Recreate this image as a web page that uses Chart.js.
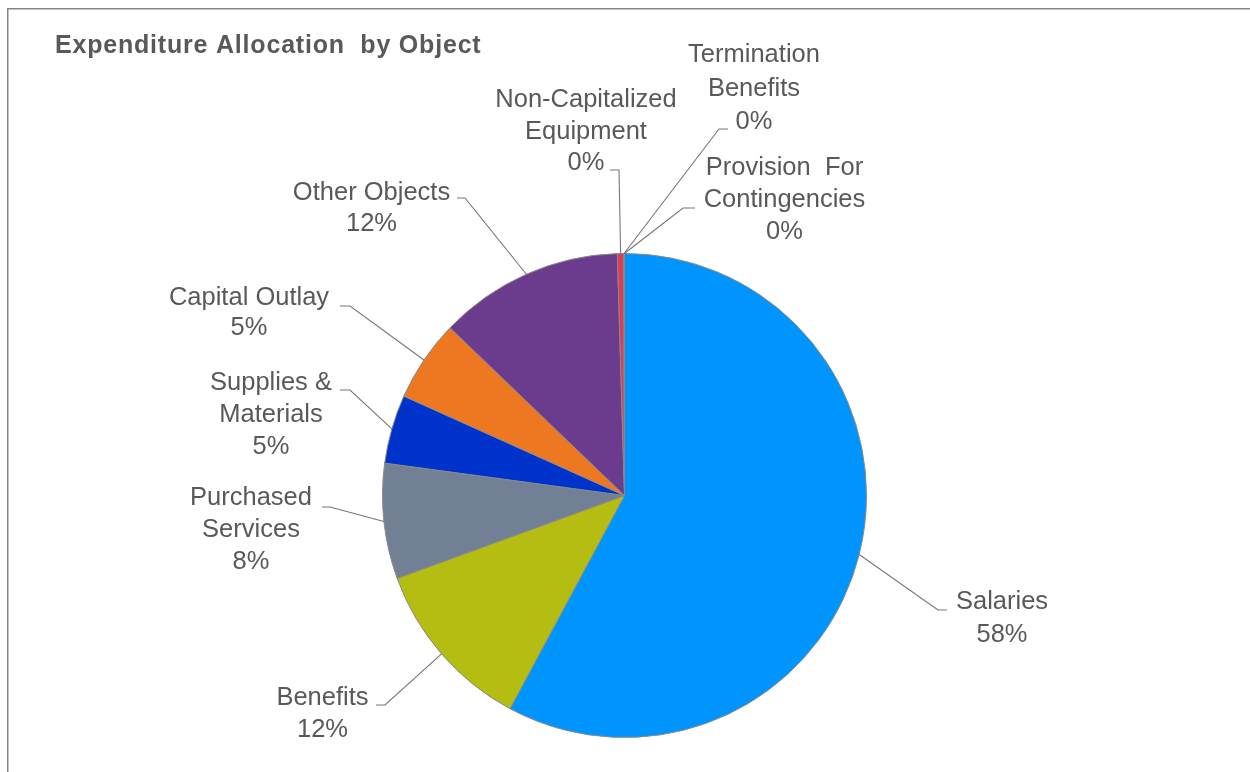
<!DOCTYPE html>
<html>
<head>
<meta charset="utf-8">
<title>Expenditure Allocation by Object</title>
<script src="https://cdn.jsdelivr.net/npm/chart.js@4.4.1/dist/chart.umd.min.js"></script>
<style>
  html, body { margin: 0; padding: 0; background: #fff; overflow: hidden; }
  #wrap { position: relative; width: 1250px; height: 772px; }
</style>
</head>
<body>
<div id="wrap"><canvas id="objectPie" width="1250" height="772"></canvas></div>
<script>
  // expenditure objects, clockwise from 12 o'clock (multi-line names are pre-split)
  const categories = [
    ['Salaries'],
    ['Benefits'],
    ['Purchased', 'Services'],
    ['Supplies &', 'Materials'],
    ['Capital Outlay'],
    ['Other Objects'],
    ['Non-Capitalized', 'Equipment'],
    ['Termination', 'Benefits'],
    ['Provision  For', 'Contingencies']
  ];
  // share of total spend, percent
  const shares = [57.86, 11.6, 7.7, 4.6, 5.45, 12.35, 0.43, 0.02, 0.02];
  const sliceColors = [
    '#0094ff', '#b5bd12', '#728096', '#0033cc', '#ee7722',
    '#6b3b8d', '#dc3c55', '#4f81bd', '#9bbb59'
  ];

  const TEXT = '#595959';
  const FONT = '"Liberation Sans", Arial, sans-serif';

  // label placement as offsets from the pie centre:
  // tx/ty = text centre and first line, ex/ey = leader elbow, stub = short run towards the text
  const labelLayout = [
    { tx: 377.5, ty: 106.5, ex: 313.5, ey: 114.5, stub: 9, lh: 33 },
    { tx: -302, ty: 202.5, ex: -239.5, ey: 209.5, stub: -9 },
    { tx: -373.5, ty: 2.5, ex: -294.5, ey: 11.5, stub: -8 },
    { tx: -353.5, ty: -112.5, ex: -274.5, ey: -105.5, stub: -10 },
    { tx: -375.5, ty: -197.5, ex: -274.5, ey: -189.5, stub: -10, lh: 30 },
    { tx: -253, ty: -302.5, ex: -159.5, ey: -297.5, stub: -8, lh: 31 },
    { tx: -38.5, ty: -395.5, ex: -5.5, ey: -325.5, stub: -9, lh: 31.5 },
    { tx: 129.5, ty: -440.5, ex: 94.5, ey: -366.5, stub: 9, lh: 33.5 },
    { tx: 160, ty: -327.5, ex: 58.5, ey: -287.5, stub: 12 }
  ];

  const frameAndTitle = {
    id: 'frameAndTitle',
    beforeDraw(chart) {
      const ctx = chart.ctx;
      ctx.save();
      ctx.fillStyle = '#fff';
      ctx.fillRect(0, 0, chart.width, chart.height);
      ctx.strokeStyle = '#868686';
      ctx.lineWidth = 1.5;
      ctx.beginPath();
      ctx.moveTo(7.75, chart.height);
      ctx.lineTo(7.75, 8.75);
      ctx.lineTo(chart.width, 8.75);
      ctx.stroke();
      ctx.restore();
    },
    afterDraw(chart) {
      const ctx = chart.ctx;
      ctx.save();
      ctx.fillStyle = TEXT;
      ctx.font = 'bold 25px ' + FONT;
      if ('letterSpacing' in ctx) ctx.letterSpacing = '0.8px';
      ctx.textAlign = 'left';
      ctx.textBaseline = 'middle';
      ctx.fillText('Expenditure Allocation  by Object', 55, 46.5);
      ctx.restore();
    }
  };

  const leaderLabels = {
    id: 'leaderLabels',
    afterDatasetsDraw(chart) {
      const ctx = chart.ctx;
      const meta = chart.getDatasetMeta(0);
      const values = chart.data.datasets[0].data;
      const total = values.reduce((a, b) => a + b, 0);
      ctx.save();
      meta.data.forEach((arc, i) => {
        const p = arc.getProps(['x', 'y', 'startAngle', 'endAngle', 'outerRadius'], true);
        const mid = (p.startAngle + p.endAngle) / 2;
        const ax = p.x + Math.cos(mid) * p.outerRadius;
        const ay = p.y + Math.sin(mid) * p.outerRadius;
        const pos = labelLayout[i];
        const ex = p.x + pos.ex, ey = p.y + pos.ey;

        ctx.strokeStyle = '#767676';
        ctx.lineWidth = 1.1;
        ctx.beginPath();
        ctx.moveTo(ax, ay);
        ctx.lineTo(ex, ey);
        ctx.lineTo(ex + pos.stub, ey);
        ctx.stroke();

        const lines = [].concat(chart.data.labels[i], Math.round(values[i] / total * 100) + '%');
        ctx.fillStyle = TEXT;
        ctx.font = '25.5px ' + FONT;
        ctx.textAlign = 'center';
        ctx.textBaseline = 'middle';
        lines.forEach((t, k) => ctx.fillText(t, p.x + pos.tx, p.y + pos.ty + k * (pos.lh || 32)));
      });
      ctx.restore();
    }
  };

  new Chart(document.getElementById('objectPie'), {
    type: 'pie',
    data: {
      labels: categories,
      datasets: [{
        data: shares,
        backgroundColor: sliceColors,
        borderColor: '#8a8a8a',
        borderWidth: 1,
        hoverOffset: 0
      }]
    },
    options: {
      responsive: false,
      animation: false,
      devicePixelRatio: 1,
      layout: { padding: { left: 300, right: 301, top: 253, bottom: 34 } },
      plugins: {
        legend: { display: false },
        tooltip: { enabled: false },
        title: { display: false }
      }
    },
    plugins: [frameAndTitle, leaderLabels]
  });
</script>
</body>
</html>
